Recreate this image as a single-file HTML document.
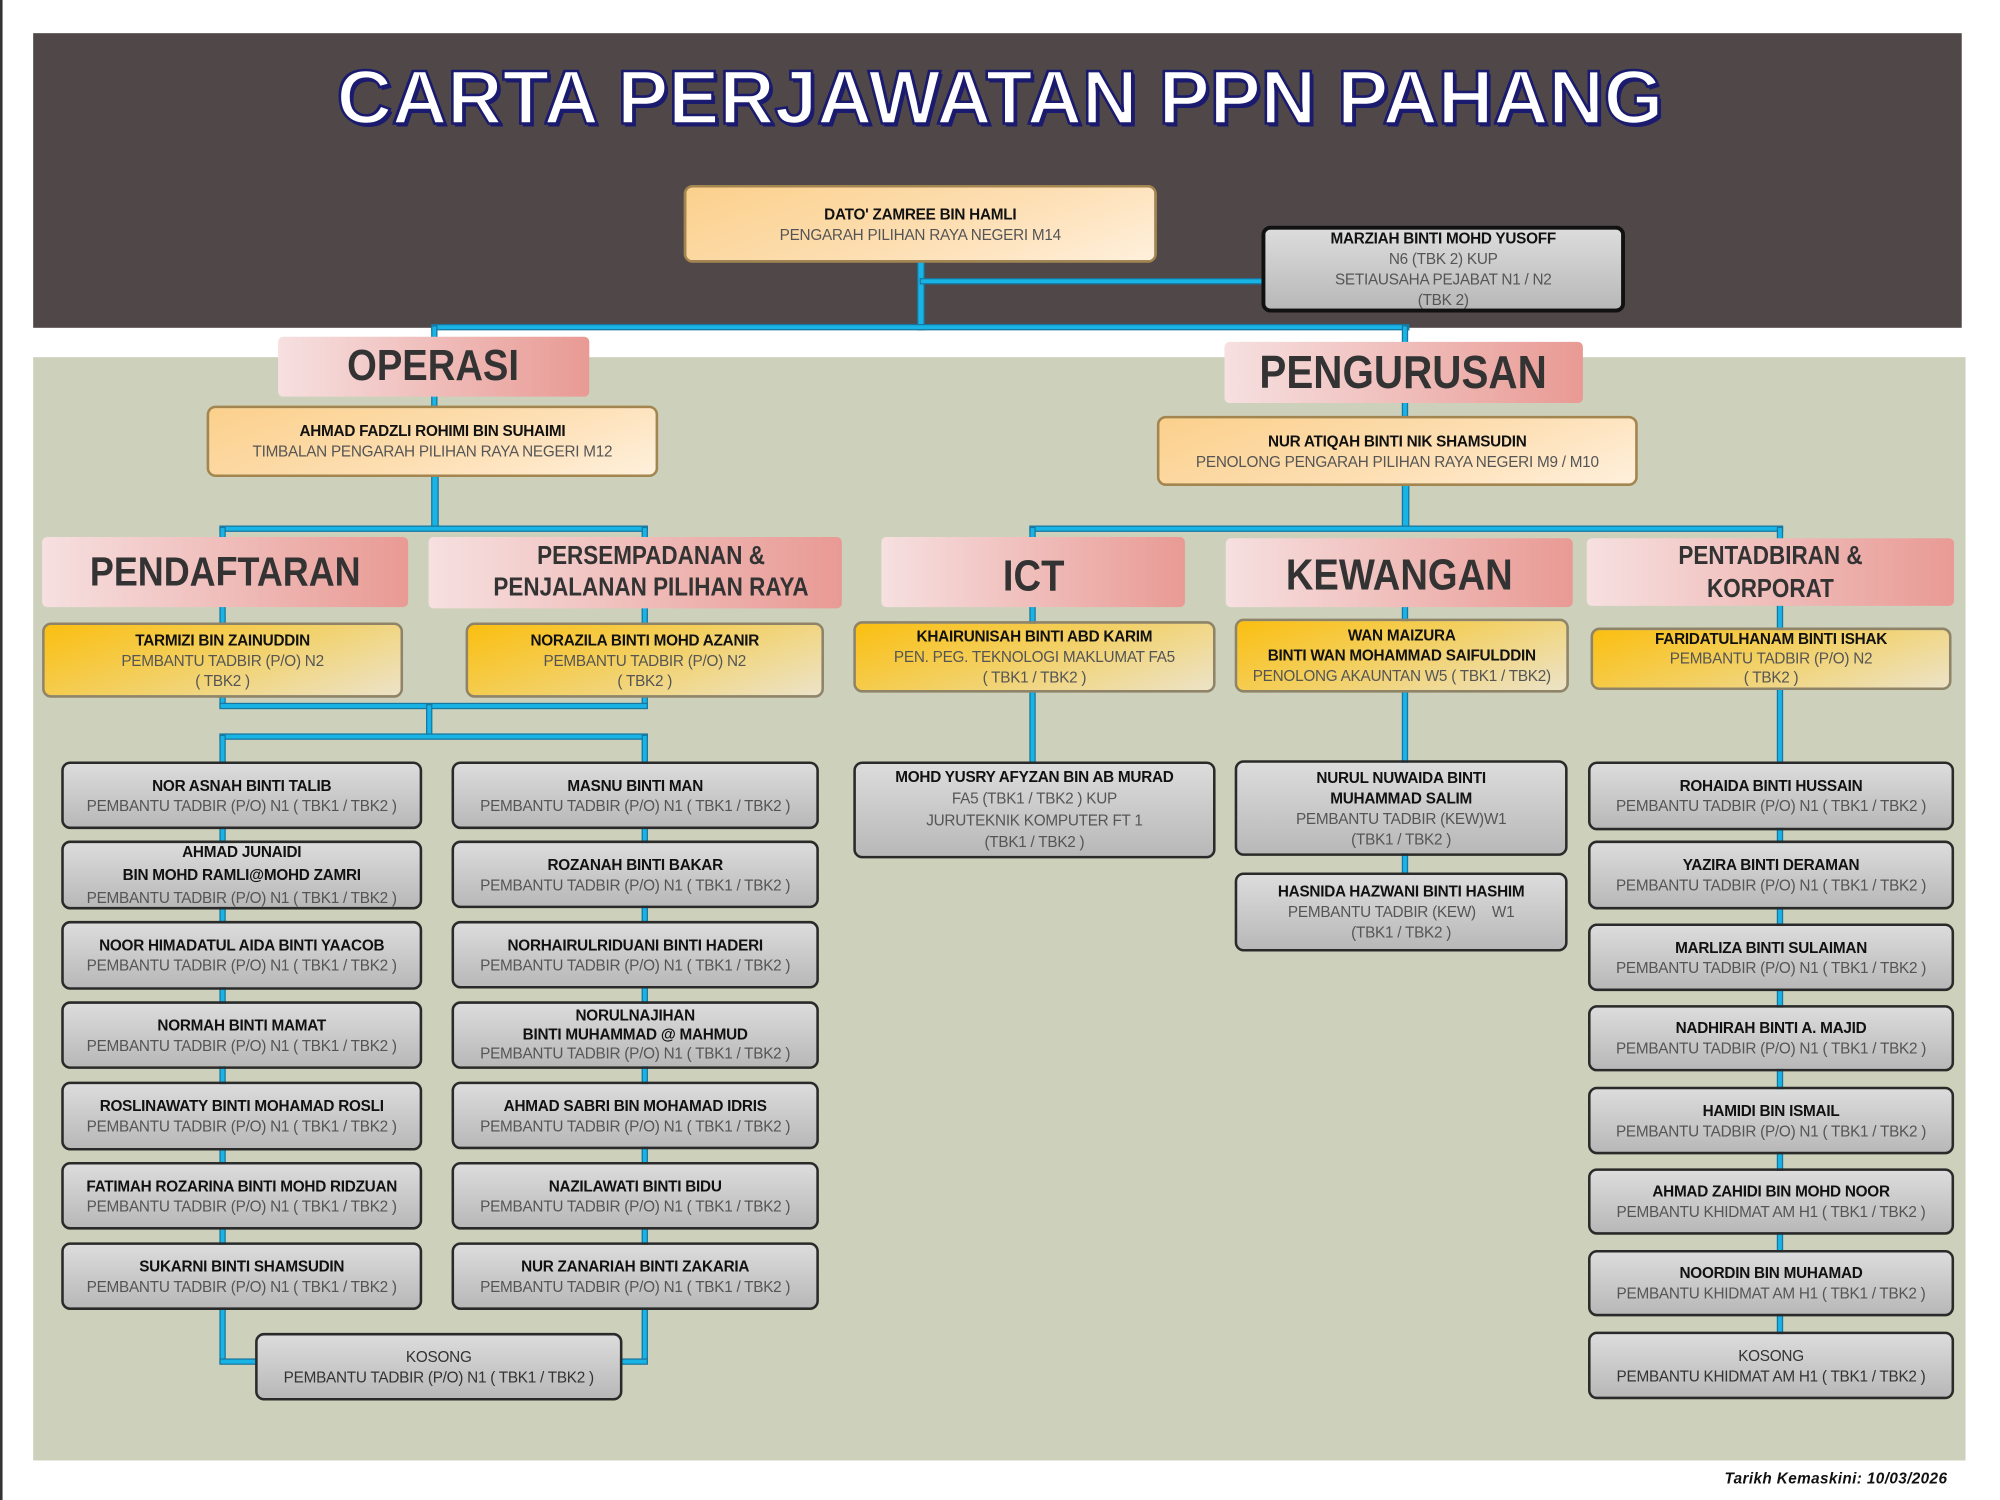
<!DOCTYPE html>
<html><head><meta charset="utf-8"><style>
*{margin:0;padding:0;box-sizing:border-box}
body{width:2000px;height:1500px;background:#fff;overflow:hidden;font-family:"Liberation Sans",Arial,sans-serif}
#w{position:absolute;left:0;top:0;width:1568px;height:1176px;transform:scale(1.27551);transform-origin:0 0}
.a{position:absolute}
.ln{position:absolute;background:#19b4e6;box-shadow:0 0 0 1px #1777a0}
.bx{position:absolute;display:flex;flex-direction:column;justify-content:center;align-items:center;text-align:center;font-size:12px;line-height:16px;color:#555;border-radius:7px;white-space:nowrap;letter-spacing:-0.2px}
.bx b{color:#111;font-weight:bold}
.g{background:linear-gradient(#dcdcdc,#b8b8b8);border:2px solid #2a2a2a}
.y{background:linear-gradient(160deg,#fbbf10 0%,#f3cf5e 45%,#ece3c8 100%);border:2px solid #8f8468;color:#555}
.o{background:linear-gradient(160deg,#fbd08c 0%,#fde0b6 60%,#fff0dc 100%);border:2px solid #a38550}
.h{position:absolute;display:flex;align-items:center;justify-content:center;text-align:center;color:#333;background:linear-gradient(90deg,#f6e0e0,#e99a94);border-radius:4px;font-weight:bold}
.h span{display:inline-block;transform:scaleX(0.88)}
</style></head><body><div id="w">
<div class="a" style="left:0;top:0;width:2px;height:1176px;background:#333"></div>
<div class="a" style="left:26px;top:26px;width:1512px;height:231px;background:#504848"></div>
<div class="a" style="left:26px;top:280px;width:1515px;height:865px;background:#cdd1bb"></div>
<div class="a" style="left:0;top:42px;width:1568px;text-align:center;"><span style="display:inline-block;transform:scaleX(1.0);font-size:60px;font-weight:bold;color:#fff;letter-spacing:0px;-webkit-text-stroke:2px #1a1a6e;text-shadow:2px 2px 0 #1a1a6e,-1px -1px 0 #1a1a6e;font-family:'Liberation Sans',sans-serif">CARTA PERJAWATAN PPN PAHANG</span></div>

<!-- connectors -->
<div class="ln" style="left:720px;top:206px;width:4px;height:52px"></div>
<div class="ln" style="left:722px;top:219px;width:267px;height:3px"></div>
<div class="ln" style="left:339px;top:255px;width:765px;height:3px"></div>
<div class="ln" style="left:339px;top:256px;width:3px;height:62px"></div>
<div class="ln" style="left:1100px;top:256px;width:3px;height:70px"></div>
<div class="ln" style="left:339px;top:374px;width:4px;height:40px"></div>
<div class="ln" style="left:173px;top:413px;width:334px;height:3px"></div>
<div class="ln" style="left:173px;top:414px;width:3px;height:8px"></div>
<div class="ln" style="left:504px;top:414px;width:3px;height:8px"></div>
<div class="ln" style="left:1100px;top:381px;width:4px;height:33px"></div>
<div class="ln" style="left:808px;top:413px;width:589px;height:3px"></div>
<div class="ln" style="left:808px;top:414px;width:3px;height:8px"></div>
<div class="ln" style="left:1394px;top:414px;width:3px;height:8px"></div>
<div class="ln" style="left:173px;top:476px;width:3px;height:12px"></div>
<div class="ln" style="left:504px;top:476px;width:3px;height:12px"></div>
<div class="ln" style="left:173px;top:547px;width:3px;height:7px"></div>
<div class="ln" style="left:504px;top:547px;width:3px;height:7px"></div>
<div class="ln" style="left:173px;top:552px;width:334px;height:3px"></div>
<div class="ln" style="left:335px;top:553px;width:3px;height:24px"></div>
<div class="ln" style="left:173px;top:576px;width:334px;height:3px"></div>
<div class="ln" style="left:173px;top:577px;width:3px;height:491px"></div>
<div class="ln" style="left:504px;top:577px;width:3px;height:491px"></div>
<div class="ln" style="left:173px;top:1066px;width:28px;height:3px"></div>
<div class="ln" style="left:487px;top:1066px;width:20px;height:3px"></div>
<div class="ln" style="left:808px;top:476px;width:3px;height:122px"></div>
<div class="ln" style="left:1100px;top:476px;width:3px;height:210px"></div>
<div class="ln" style="left:1394px;top:475px;width:3px;height:595px"></div>

<!-- top boxes -->
<div class="bx o" style="left:536px;top:145px;width:371px;height:61px"><b>DATO' ZAMREE BIN HAMLI</b>PENGARAH PILIHAN RAYA NEGERI M14</div>
<div class="bx g" style="left:989px;top:177px;width:285px;height:68px;border-width:3px;border-color:#111;line-height:16px"><b>MARZIAH BINTI MOHD YUSOFF</b>N6 (TBK 2) KUP<br>SETIAUSAHA PEJABAT N1 / N2<br>(TBK 2)</div>

<div class="h" style="left:218px;top:264px;width:244px;height:47px;font-size:34px"><span>OPERASI</span></div>
<div class="h" style="left:960px;top:268px;width:281px;height:48px;font-size:36px"><span>PENGURUSAN</span></div>
<div class="bx o" style="left:162px;top:318px;width:354px;height:56px"><b>AHMAD FADZLI ROHIMI BIN SUHAIMI</b>TIMBALAN PENGARAH PILIHAN RAYA NEGERI M12</div>
<div class="bx o" style="left:907px;top:326px;width:377px;height:55px"><b>NUR ATIQAH BINTI NIK SHAMSUDIN</b>PENOLONG PENGARAH PILIHAN RAYA NEGERI M9 / M10</div>

<div class="h" style="left:33px;top:421px;width:287px;height:55px;font-size:32px"><span>PENDAFTARAN</span></div>
<div class="h" style="left:336px;top:421px;width:324px;height:56px;font-size:20px;line-height:25px;padding-left:24px"><span>PERSEMPADANAN &amp;<br>PENJALANAN PILIHAN RAYA</span></div>
<div class="h" style="left:691px;top:421px;width:238px;height:55px;font-size:34px;padding-top:8px"><span>ICT</span></div>
<div class="h" style="left:961px;top:422px;width:272px;height:54px;font-size:34px;padding-top:4px"><span>KEWANGAN</span></div>
<div class="h" style="left:1244px;top:422px;width:288px;height:53px;font-size:20px;line-height:26px"><span>PENTADBIRAN &amp;<br>KORPORAT</span></div>

<div class="bx y" style="left:33px;top:488px;width:283px;height:59px"><b>TARMIZI BIN ZAINUDDIN</b>PEMBANTU TADBIR (P/O) N2<br>( TBK2 )</div>
<div class="bx y" style="left:365px;top:488px;width:281px;height:59px"><b>NORAZILA BINTI MOHD AZANIR</b>PEMBANTU TADBIR (P/O) N2<br>( TBK2 )</div>
<div class="bx y" style="left:669px;top:487px;width:284px;height:56px"><b>KHAIRUNISAH BINTI ABD KARIM</b>PEN. PEG. TEKNOLOGI MAKLUMAT FA5<br>( TBK1 / TBK2 )</div>
<div class="bx y" style="left:968px;top:485px;width:262px;height:58px"><b>WAN MAIZURA</b><b>BINTI WAN MOHAMMAD SAIFULDDIN</b>PENOLONG AKAUNTAN W5 ( TBK1 / TBK2)</div>
<div class="bx y" style="left:1247px;top:492px;width:283px;height:49px;line-height:15px"><b>FARIDATULHANAM BINTI ISHAK</b>PEMBANTU TADBIR (P/O) N2<br>( TBK2 )</div>

<!-- left column -->
<div class="bx g" style="left:48px;top:597px;width:283px;height:53px"><b>NOR ASNAH BINTI TALIB</b>PEMBANTU TADBIR (P/O) N1 ( TBK1 / TBK2 )</div>
<div class="bx g" style="left:48px;top:659px;width:283px;height:54px;line-height:18px"><b>AHMAD JUNAIDI</b><b>BIN MOHD RAMLI@MOHD ZAMRI</b>PEMBANTU TADBIR (P/O) N1 ( TBK1 / TBK2 )</div>
<div class="bx g" style="left:48px;top:722px;width:283px;height:54px"><b>NOOR HIMADATUL AIDA BINTI YAACOB</b>PEMBANTU TADBIR (P/O) N1 ( TBK1 / TBK2 )</div>
<div class="bx g" style="left:48px;top:785px;width:283px;height:53px"><b>NORMAH BINTI MAMAT</b>PEMBANTU TADBIR (P/O) N1 ( TBK1 / TBK2 )</div>
<div class="bx g" style="left:48px;top:848px;width:283px;height:54px"><b>ROSLINAWATY BINTI MOHAMAD ROSLI</b>PEMBANTU TADBIR (P/O) N1 ( TBK1 / TBK2 )</div>
<div class="bx g" style="left:48px;top:911px;width:283px;height:53px"><b>FATIMAH ROZARINA BINTI MOHD RIDZUAN</b>PEMBANTU TADBIR (P/O) N1 ( TBK1 / TBK2 )</div>
<div class="bx g" style="left:48px;top:974px;width:283px;height:53px"><b>SUKARNI BINTI SHAMSUDIN</b>PEMBANTU TADBIR (P/O) N1 ( TBK1 / TBK2 )</div>
<!-- right column -->
<div class="bx g" style="left:354px;top:597px;width:288px;height:53px"><b>MASNU BINTI MAN</b>PEMBANTU TADBIR (P/O) N1 ( TBK1 / TBK2 )</div>
<div class="bx g" style="left:354px;top:659px;width:288px;height:53px"><b>ROZANAH BINTI BAKAR</b>PEMBANTU TADBIR (P/O) N1 ( TBK1 / TBK2 )</div>
<div class="bx g" style="left:354px;top:722px;width:288px;height:53px"><b>NORHAIRULRIDUANI BINTI HADERI</b>PEMBANTU TADBIR (P/O) N1 ( TBK1 / TBK2 )</div>
<div class="bx g" style="left:354px;top:785px;width:288px;height:53px;line-height:15px"><b>NORULNAJIHAN</b><b>BINTI MUHAMMAD @ MAHMUD</b>PEMBANTU TADBIR (P/O) N1 ( TBK1 / TBK2 )</div>
<div class="bx g" style="left:354px;top:848px;width:288px;height:53px"><b>AHMAD SABRI BIN MOHAMAD IDRIS</b>PEMBANTU TADBIR (P/O) N1 ( TBK1 / TBK2 )</div>
<div class="bx g" style="left:354px;top:911px;width:288px;height:53px"><b>NAZILAWATI BINTI BIDU</b>PEMBANTU TADBIR (P/O) N1 ( TBK1 / TBK2 )</div>
<div class="bx g" style="left:354px;top:974px;width:288px;height:53px"><b>NUR ZANARIAH BINTI ZAKARIA</b>PEMBANTU TADBIR (P/O) N1 ( TBK1 / TBK2 )</div>
<div class="bx g" style="left:200px;top:1045px;width:288px;height:53px;color:#333">KOSONG<br>PEMBANTU TADBIR (P/O) N1 ( TBK1 / TBK2 )</div>

<!-- ICT / KEW -->
<div class="bx g" style="left:669px;top:597px;width:284px;height:76px;line-height:17px"><b>MOHD YUSRY AFYZAN BIN AB MURAD</b>FA5 (TBK1 / TBK2 ) KUP<br>JURUTEKNIK KOMPUTER FT 1<br>(TBK1 / TBK2 )</div>
<div class="bx g" style="left:968px;top:596px;width:261px;height:75px"><b>NURUL NUWAIDA BINTI</b><b>MUHAMMAD SALIM</b>PEMBANTU TADBIR (KEW)W1<br>(TBK1 / TBK2 )</div>
<div class="bx g" style="left:968px;top:684px;width:261px;height:62px"><b>HASNIDA HAZWANI BINTI HASHIM</b>PEMBANTU TADBIR (KEW) &nbsp;&nbsp; W1<br>(TBK1 / TBK2 )</div>

<!-- PENTADBIRAN -->
<div class="bx g" style="left:1245px;top:597px;width:287px;height:54px"><b>ROHAIDA BINTI HUSSAIN</b>PEMBANTU TADBIR (P/O) N1 ( TBK1 / TBK2 )</div>
<div class="bx g" style="left:1245px;top:659px;width:287px;height:54px"><b>YAZIRA BINTI DERAMAN</b>PEMBANTU TADBIR (P/O) N1 ( TBK1 / TBK2 )</div>
<div class="bx g" style="left:1245px;top:724px;width:287px;height:53px"><b>MARLIZA BINTI SULAIMAN</b>PEMBANTU TADBIR (P/O) N1 ( TBK1 / TBK2 )</div>
<div class="bx g" style="left:1245px;top:788px;width:287px;height:52px"><b>NADHIRAH BINTI A. MAJID</b>PEMBANTU TADBIR (P/O) N1 ( TBK1 / TBK2 )</div>
<div class="bx g" style="left:1245px;top:852px;width:287px;height:53px"><b>HAMIDI BIN ISMAIL</b>PEMBANTU TADBIR (P/O) N1 ( TBK1 / TBK2 )</div>
<div class="bx g" style="left:1245px;top:916px;width:287px;height:52px"><b>AHMAD ZAHIDI BIN MOHD NOOR</b>PEMBANTU KHIDMAT AM H1 ( TBK1 / TBK2 )</div>
<div class="bx g" style="left:1245px;top:980px;width:287px;height:52px"><b>NOORDIN BIN MUHAMAD</b>PEMBANTU KHIDMAT AM H1 ( TBK1 / TBK2 )</div>
<div class="bx g" style="left:1245px;top:1044px;width:287px;height:53px;color:#333">KOSONG<br>PEMBANTU KHIDMAT AM H1 ( TBK1 / TBK2 )</div>

<div class="a" style="left:1352px;top:1152px;font-size:12px;font-style:italic;font-weight:bold;color:#111;letter-spacing:0.3px">Tarikh Kemaskini: 10/03/2026</div>
</div></body></html>
